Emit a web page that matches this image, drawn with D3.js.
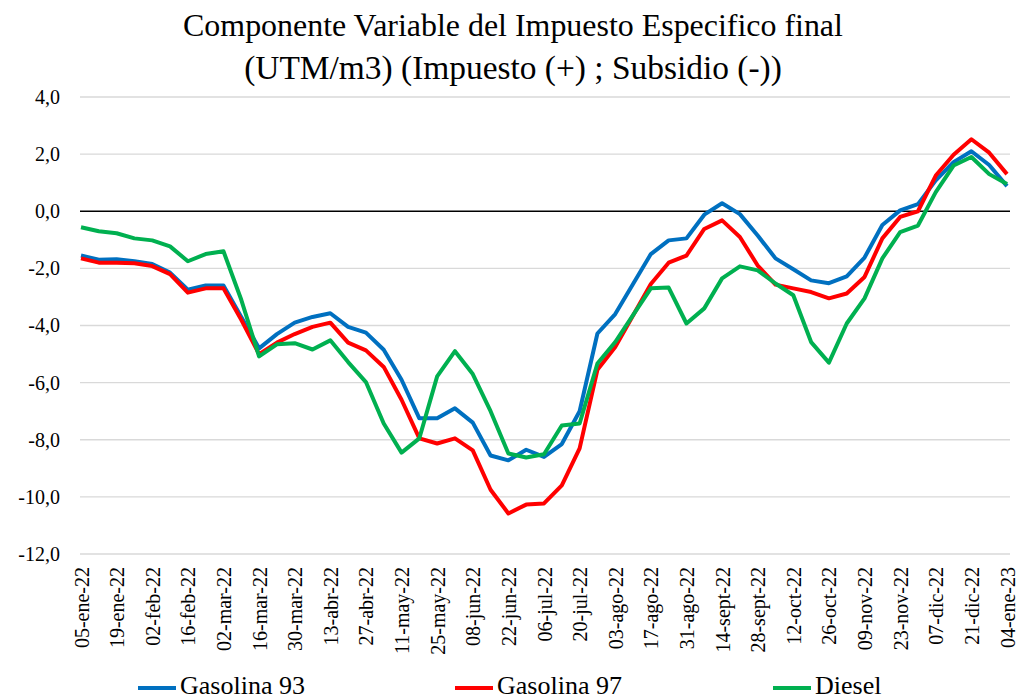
<!DOCTYPE html>
<html><head><meta charset="utf-8">
<script src="https://cdn.jsdelivr.net/npm/d3@7/dist/d3.min.js"></script>
<style>body{margin:0;background:#fff}svg{display:block}svg text{font-family:'Liberation Serif','DejaVu Serif',serif !important;fill:#000}</style>
</head><body><svg id="c" width="1018" height="699"></svg>
<script>
const weeks = ["05-ene-22","12-ene-22","19-ene-22","26-ene-22","02-feb-22","09-feb-22","16-feb-22","23-feb-22","02-mar-22","09-mar-22","16-mar-22","23-mar-22","30-mar-22","06-abr-22","13-abr-22","20-abr-22","27-abr-22","04-may-22","11-may-22","18-may-22","25-may-22","01-jun-22","08-jun-22","15-jun-22","22-jun-22","29-jun-22","06-jul-22","13-jul-22","20-jul-22","27-jul-22","03-ago-22","10-ago-22","17-ago-22","24-ago-22","31-ago-22","07-sept-22","14-sept-22","21-sept-22","28-sept-22","05-oct-22","12-oct-22","19-oct-22","26-oct-22","02-nov-22","09-nov-22","16-nov-22","23-nov-22","30-nov-22","07-dic-22","14-dic-22","21-dic-22","28-dic-22","04-ene-23"];
const gas93 = [-1.55,-1.7,-1.68,-1.75,-1.85,-2.15,-2.75,-2.6,-2.6,-3.7,-4.8,-4.3,-3.9,-3.7,-3.57,-4.05,-4.25,-4.85,-5.9,-7.25,-7.25,-6.9,-7.4,-8.55,-8.72,-8.35,-8.6,-8.15,-7.0,-4.28,-3.6,-2.55,-1.5,-1.02,-0.95,-0.12,0.28,-0.1,-0.85,-1.65,-2.03,-2.42,-2.52,-2.28,-1.62,-0.48,0.03,0.25,1.08,1.72,2.1,1.62,0.88];
const gas97 = [-1.65,-1.8,-1.8,-1.82,-1.92,-2.2,-2.85,-2.7,-2.7,-3.8,-5.0,-4.6,-4.3,-4.05,-3.9,-4.6,-4.87,-5.45,-6.6,-7.95,-8.13,-7.95,-8.37,-9.75,-10.58,-10.27,-10.23,-9.6,-8.3,-5.55,-4.75,-3.65,-2.55,-1.8,-1.55,-0.62,-0.32,-0.9,-1.9,-2.57,-2.7,-2.83,-3.05,-2.88,-2.3,-0.95,-0.2,0.0,1.25,1.98,2.52,2.05,1.3];
const diesel = [-0.56,-0.7,-0.77,-0.95,-1.02,-1.23,-1.75,-1.5,-1.4,-3.1,-5.08,-4.66,-4.62,-4.84,-4.52,-5.28,-5.98,-7.43,-8.45,-7.95,-5.78,-4.9,-5.7,-7.0,-8.48,-8.62,-8.51,-7.5,-7.43,-5.33,-4.58,-3.64,-2.7,-2.67,-3.93,-3.4,-2.35,-1.93,-2.07,-2.53,-2.94,-4.58,-5.3,-3.93,-3.05,-1.65,-0.73,-0.5,0.67,1.6,1.9,1.3,0.95];
const yTicks = [4,2,0,-2,-4,-6,-8,-10,-12];
const seriesNames = ["Gasolina 93","Gasolina 97","Diesel"];
const seriesColors = ["#0070C0","#FF0000","#00B050"];
const titleLines = ["Componente Variable del Impuesto Especifico final","(UTM/m3) (Impuesto (+) ; Subsidio (-))"];

const FF = "'Liberation Serif','DejaVu Serif',serif";
const svg = d3.select("#c");
const L = 80, R = 1010, T = 97, B = 554;
const x = d3.scalePoint().domain(weeks).range([81, 1007]);
const y = d3.scaleLinear().domain([-12, 4]).range([B, T]);

svg.append("g").selectAll("line").data(yTicks.filter(d => d !== 0)).join("line")
  .attr("x1", L).attr("x2", R).attr("y1", d => y(d)).attr("y2", d => y(d))
  .attr("stroke", "#d9d9d9").attr("stroke-width", 1.3);

const yAxis = d3.axisLeft(y).tickValues(yTicks).tickSize(0).tickPadding(0)
  .tickFormat(d => d3.format(".1f")(d).replace(".", ",").replace("−", "-"));
const ya = svg.append("g").attr("transform", "translate(60,0)").call(yAxis).attr("font-family", FF);
ya.select(".domain").remove();
ya.selectAll("text").attr("font-size", 20).style("font-family", FF).attr("fill", "#000").attr("dy", "0.32em");

svg.append("line").attr("x1", L).attr("x2", R).attr("y1", y(0)).attr("y2", y(0))
  .attr("stroke", "#000").attr("stroke-width", 1.5);

const xTickVals = weeks.filter((d, i) => i % 2 === 0);
const xAxis = d3.axisBottom(x).tickValues(xTickVals).tickSize(0).tickPadding(0);
const xa = svg.append("g").attr("transform", `translate(0,567)`).call(xAxis).attr("font-family", FF);
xa.select(".domain").remove();
xa.selectAll("text").attr("font-size", 20).style("font-family", FF).attr("fill", "#000")
  .attr("text-anchor", "end").attr("transform", "rotate(-90)").attr("x", 0).attr("y", 0).attr("dy", "0.35em");

const line = d3.line().x((d, i) => x(weeks[i])).y(d => y(d));
[gas93, gas97, diesel].forEach((s, k) => {
  svg.append("path").datum(s).attr("d", line).attr("fill", "none")
    .attr("stroke", seriesColors[k]).attr("stroke-width", 4).attr("stroke-linejoin", "round");
});

const tt = [36, 79];
titleLines.forEach((t, i) => {
  const el = svg.append("text").attr("x", 513).attr("y", tt[i]).attr("text-anchor", "middle")
    .style("font-family", FF).attr("font-size", 27).text(t);
  const target = i === 0 ? 660 : 538;
  const w = el.node().getComputedTextLength();
  el.attr("font-size", 27 * target / w);
});

const legX = [138, 455, 773];
seriesNames.forEach((n, k) => {
  svg.append("line").attr("x1", legX[k]).attr("x2", legX[k] + 38).attr("y1", 688).attr("y2", 688)
    .attr("stroke", seriesColors[k]).attr("stroke-width", 4);
  svg.append("text").attr("x", legX[k] + 42).attr("y", 694).style("font-family", FF).attr("font-size", 26).text(n);
});
</script></body></html>
